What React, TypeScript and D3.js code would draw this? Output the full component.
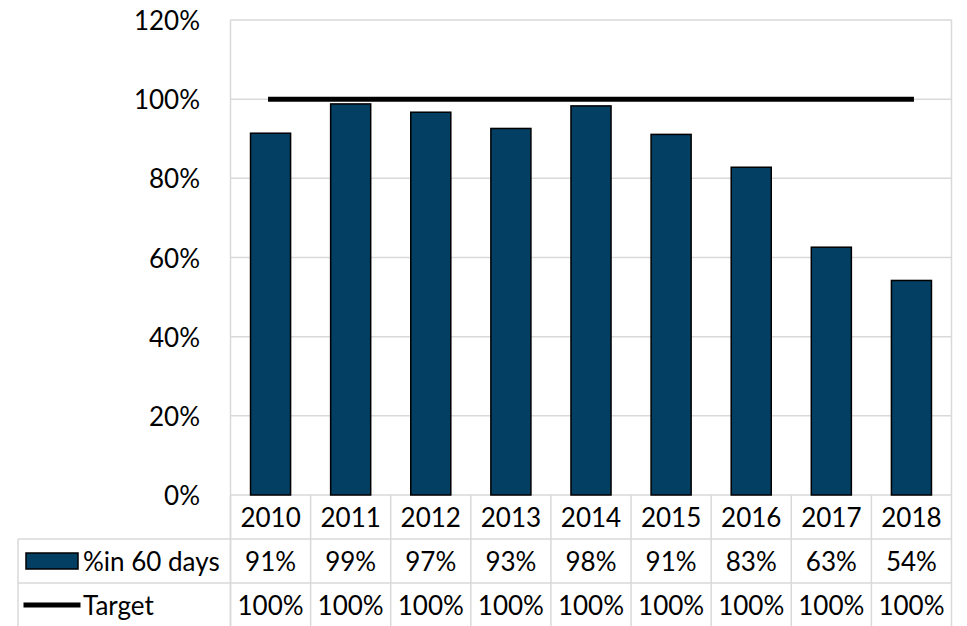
import React from "react";
import * as d3 from "d3";

// chart data
const years = ["2010", "2011", "2012", "2013", "2014", "2015", "2016", "2017", "2018"];
const pctIn60Days = [0.914, 0.988, 0.967, 0.926, 0.983, 0.911, 0.828, 0.626, 0.542];
const target = [1, 1, 1, 1, 1, 1, 1, 1, 1];
const yTicks = [0, 0.2, 0.4, 0.6, 0.8, 1.0, 1.2];
const seriesNames = ["%in 60 days", "Target"];

const W = 967;
const H = 626;
const plot = { left: 230.5, right: 951.5, top: 20, bottom: 495 };
const rowH = 44;
const tableLeft = 18;
const barColor = "#033f63";
const gridColor = "#d9d9d9";
const font = "Lato, 'Open Sans', sans-serif";
const fontSize = 26;

const App = () => {
  const x = d3.scaleBand<string>().domain(years).range([plot.left, plot.right]).paddingInner(0.5).paddingOuter(0.25);
  const band = d3.scaleBand<string>().domain(years).range([plot.left, plot.right]);
  const y = d3.scaleLinear().domain([0, 1.2]).range([plot.bottom, plot.top]);
  const pct = (v: number) => `${Math.round(v * 100)}%`;

  const targetLine = d3
    .line<number>()
    .x((_, i) => band(years[i])! + band.bandwidth() / 2)
    .y((d) => y(d));

  const rows = [
    { name: seriesNames[0], values: pctIn60Days, kind: "bar" },
    { name: seriesNames[1], values: target, kind: "line" },
  ];

  return (
    <svg width={W} height={H} style={{ position: "absolute", left: 0, top: 0, background: "#fff" }}>
      {/* gridlines */}
      {yTicks.map((t) => (
        <line key={t} x1={plot.left} x2={plot.right} y1={y(t)} y2={y(t)} stroke={gridColor} strokeWidth={1.5} />
      ))}
      <line x1={plot.left} x2={plot.left} y1={plot.top} y2={H} stroke={gridColor} strokeWidth={1.5} />
      <line x1={plot.right} x2={plot.right} y1={plot.top} y2={H} stroke={gridColor} strokeWidth={1.5} />

      {/* y labels */}
      {yTicks.map((t) => (
        <text key={"l" + t} x={200} y={y(t)} textAnchor="end" dominantBaseline="central"
          fontFamily={font} fontSize={fontSize} fill="#000">
          {pct(t)}
        </text>
      ))}

      {/* bars */}
      {pctIn60Days.map((v, i) => (
        <rect key={years[i]} x={x(years[i])} y={y(v)} width={x.bandwidth()} height={y(0) - y(v)}
          fill={barColor} stroke="#000" strokeWidth={1.5} />
      ))}

      {/* target line */}
      <path d={targetLine(target) || ""} fill="none" stroke="#000" strokeWidth={5} strokeLinecap="square" />

      {/* data table */}
      {years.map((yr) => (
        <line key={"v" + yr} x1={band(yr)} x2={band(yr)} y1={plot.bottom} y2={H} stroke={gridColor} strokeWidth={1.5} />
      ))}
      {[1, 2].map((r) => (
        <line key={"h" + r} x1={tableLeft} x2={plot.right} y1={plot.bottom + r * rowH} y2={plot.bottom + r * rowH}
          stroke={gridColor} strokeWidth={1.5} />
      ))}
      <line x1={tableLeft} x2={tableLeft} y1={plot.bottom + rowH} y2={H} stroke={gridColor} strokeWidth={1.5} />

      {years.map((yr) => (
        <text key={"t" + yr} x={band(yr)! + band.bandwidth() / 2} y={plot.bottom + rowH / 2}
          textAnchor="middle" dominantBaseline="central" fontFamily={font} fontSize={fontSize}>
          {yr}
        </text>
      ))}
      {rows.map((row, r) => {
        const cy = plot.bottom + rowH * (r + 1) + rowH / 2;
        return (
          <g key={row.name}>
            {row.kind === "bar" ? (
              <rect x={26} y={cy - 8} width={52} height={16} fill={barColor} stroke="#000" strokeWidth={1.5} />
            ) : (
              <line x1={26} x2={78} y1={cy} y2={cy} stroke="#000" strokeWidth={5} strokeLinecap="square" />
            )}
            <text x={83} y={cy} dominantBaseline="central" fontFamily={font} fontSize={fontSize}>
              {row.name}
            </text>
            {row.values.map((v, i) => (
              <text key={i} x={band(years[i])! + band.bandwidth() / 2} y={cy} textAnchor="middle"
                dominantBaseline="central" fontFamily={font} fontSize={fontSize}>
                {pct(v)}
              </text>
            ))}
          </g>
        );
      })}
    </svg>
  );
};

export default App;
